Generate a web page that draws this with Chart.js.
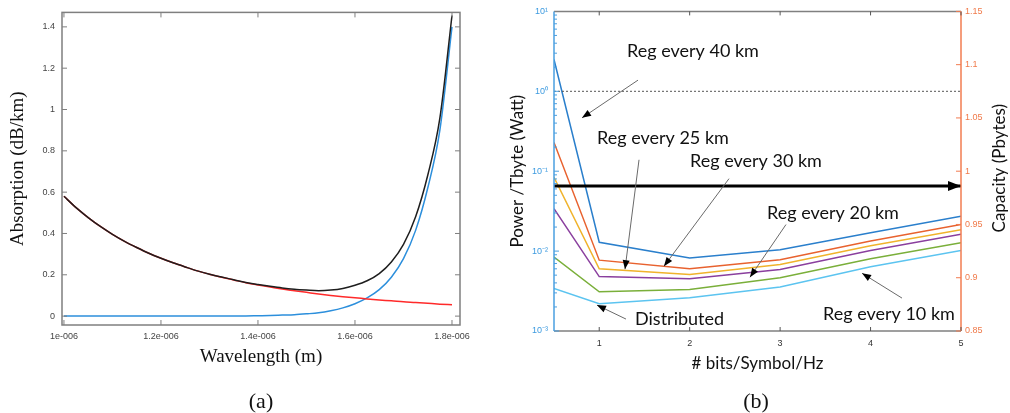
<!DOCTYPE html>
<html>
<head>
<meta charset="utf-8">
<script src="https://cdn.jsdelivr.net/npm/chart.js@4.4.0/dist/chart.umd.min.js"></script>
<style>
body { margin: 0; background: #fff; width: 1010px; height: 413px; position: relative; overflow: hidden; }
canvas { position: absolute; top: 0; }
#absorption { left: 0; }
#power { left: 500px; }
.sub { position: absolute; top: 388px; line-height: 24px; font: 22px "Liberation Serif"; color: #111; transform: translateX(-50%); }
</style>
</head>
<body>
<canvas id="absorption" width="500" height="413"></canvas>
<canvas id="power" width="510" height="413"></canvas>
<div class="sub" style="left:261px">(a)</div>
<div class="sub" style="left:756px">(b)</div>
<script>
// ---- (a) absorption vs wavelength ----
const wavelength = [1.000e-6, 1.025e-6, 1.050e-6, 1.075e-6, 1.100e-6, 1.125e-6, 1.150e-6, 1.175e-6, 1.200e-6,
  1.225e-6, 1.250e-6, 1.275e-6, 1.300e-6, 1.325e-6, 1.350e-6, 1.375e-6, 1.400e-6, 1.425e-6, 1.450e-6,
  1.475e-6, 1.500e-6, 1.525e-6, 1.550e-6, 1.575e-6, 1.600e-6, 1.625e-6, 1.650e-6, 1.675e-6, 1.700e-6,
  1.725e-6, 1.750e-6, 1.775e-6, 1.800e-6]
const scattering = [0.580, 0.525, 0.477, 0.434, 0.396, 0.362, 0.332, 0.304, 0.280, 0.258, 0.238, 0.219,
  0.203, 0.188, 0.175, 0.162, 0.151, 0.141, 0.131, 0.123, 0.115, 0.107, 0.100, 0.094, 0.089, 0.083,
  0.078, 0.074, 0.069, 0.066, 0.062, 0.058, 0.055]
const infrared = [0, 0, 0, 0, 0, 0, 0, 0, 0, 0, 0, 0, 0, 0.001, 0.001, 0.001, 0.002, 0.003, 0.005, 0.007,
  0.011, 0.016, 0.026, 0.040, 0.060, 0.088, 0.128, 0.188, 0.278, 0.415, 0.620, 0.900, 1.400]
const totalLoss = [0.580, 0.525, 0.477, 0.434, 0.396, 0.362, 0.332, 0.304, 0.280, 0.258, 0.238, 0.219,
  0.203, 0.189, 0.176, 0.163, 0.153, 0.144, 0.136, 0.130, 0.126, 0.123, 0.126, 0.134, 0.149, 0.171,
  0.206, 0.262, 0.347, 0.481, 0.682, 0.958, 1.455]
const wlTicks = [1e-6, 1.2e-6, 1.4e-6, 1.6e-6, 1.8e-6]
const wlTickLabels = ['1e-006', '1.2e-006', '1.4e-006', '1.6e-006', '1.8e-006']
const absTicks = [0, 0.2, 0.4, 0.6, 0.8, 1, 1.2, 1.4]
const absTickLabels = ['0', '0.2', '0.4', '0.6', '0.8', '1', '1.2', '1.4']

// ---- (b) power / capacity vs bits per symbol ----
const bitsPerSymbol = [0.5, 1, 2, 3, 4, 5]
const reg40 = [2.5, 0.0129, 0.0082, 0.0104, 0.0170, 0.0273]
const reg30 = [0.229, 0.0077, 0.0060, 0.0078, 0.0134, 0.0215]
const reg25 = [0.084, 0.0060, 0.0051, 0.0068, 0.0117, 0.0185]
const reg20 = [0.034, 0.0048, 0.0045, 0.0059, 0.0102, 0.0162]
const reg10 = [0.0084, 0.0031, 0.0033, 0.00465, 0.0080, 0.0127]
const distributed = [0.0034, 0.0022, 0.0026, 0.00356, 0.00636, 0.0102]
const limitX = [0.5, 5]
const limitPower = [1, 1]
const capacityX = [0.5, 5]
const capacity = [0.986, 0.986]
const bitsTicks = [1, 2, 3, 4, 5]
const bitsTickLabels = ['1', '2', '3', '4', '5']
const powerTicks = [0.001, 0.01, 0.1, 1, 10]
const powerTickLabels = ['10⁻³', '10⁻²', '10⁻¹', '10⁰', '10¹']
const capTicks = [0.85, 0.9, 0.95, 1, 1.05, 1.1, 1.15]
const capTickLabels = ['0.85', '0.9', '0.95', '1', '1.05', '1.1', '1.15']

// callouts, in data units (x, power)
const notes = [
  { text: 'Reg every 40 km', x: 1.307, y: 3.18, from: [1.429, 1.38], to: [0.810, 0.465] },
  { text: 'Reg every 25 km', x: 0.975, y: 0.261, from: [1.440, 0.139], to: [1.285, 0.00593] },
  { text: 'Reg every 30 km', x: 2.004, y: 0.135, from: [2.435, 0.0807], to: [1.716, 0.00646] },
  { text: 'Reg every 20 km', x: 2.855, y: 0.0295, from: [3.065, 0.0215], to: [2.667, 0.00471] },
  { text: 'Reg every 10 km', x: 3.474, y: 0.00163, from: [4.348, 0.00258], to: [3.906, 0.00528] },
  { text: 'Distributed', x: 1.396, y: 0.00141, from: [1.296, 0.00141], to: [0.975, 0.00211] },
]

Chart.defaults.font.family = 'Liberation Sans'

const pts = (xs, ys) => xs.map((x, i) => ({ x: x, y: ys[i] }))
const fixTicks = vals => s => { s.ticks = vals.map(v => ({ value: v })) }

function head(ctx, x0, y0, x1, y1, len, w) {
    const a = Math.atan2(y1 - y0, x1 - x0)
    ctx.save()
    ctx.translate(x1, y1)
    ctx.rotate(a)
    ctx.beginPath()
    ctx.moveTo(0, 0)
    ctx.lineTo(-len, -w / 2)
    ctx.lineTo(-len, w / 2)
    ctx.closePath()
    ctx.fill()
    ctx.restore()
}

const frameA = {
    id: 'frameA',
    afterDatasetsDraw(chart) {
        const { ctx, chartArea: a, scales: { x, y } } = chart
        ctx.save()
        ctx.strokeStyle = '#7f7f7f'
        ctx.lineWidth = 1.5
        ctx.strokeRect(a.left, a.top, a.right - a.left, a.bottom - a.top)
        ctx.lineWidth = 1
        ctx.beginPath()
        x.ticks.forEach(t => {
            const p = x.getPixelForValue(t.value)
            ctx.moveTo(p, a.bottom); ctx.lineTo(p, a.bottom - 5)
            ctx.moveTo(p, a.top); ctx.lineTo(p, a.top + 5)
        })
        y.ticks.forEach(t => {
            const p = y.getPixelForValue(t.value)
            ctx.moveTo(a.left, p); ctx.lineTo(a.left + 5, p)
            ctx.moveTo(a.right, p); ctx.lineTo(a.right - 5, p)
        })
        ctx.stroke()
        ctx.restore()
    },
}

const frameB = {
    id: 'frameB',
    afterDatasetsDraw(chart) {
        const { ctx, chartArea: a, scales: { x, y, y2 } } = chart
        ctx.save()
        ctx.lineWidth = 1.5
        ctx.strokeStyle = '#808080'
        ctx.beginPath()
        ctx.moveTo(a.left, a.top); ctx.lineTo(a.right, a.top)
        ctx.moveTo(a.left, a.bottom); ctx.lineTo(a.right, a.bottom)
        ctx.stroke()
        ctx.strokeStyle = '#4a9fe0'
        ctx.beginPath(); ctx.moveTo(a.left, a.top); ctx.lineTo(a.left, a.bottom); ctx.stroke()
        ctx.strokeStyle = '#f27c50'
        ctx.beginPath(); ctx.moveTo(a.right, a.top); ctx.lineTo(a.right, a.bottom); ctx.stroke()

        ctx.lineWidth = 1
        ctx.strokeStyle = '#555'
        ctx.beginPath()
        x.ticks.forEach(t => {
            const p = x.getPixelForValue(t.value)
            ctx.moveTo(p, a.bottom); ctx.lineTo(p, a.bottom - 4)
            ctx.moveTo(p, a.top); ctx.lineTo(p, a.top + 4)
        })
        ctx.stroke()
        // log ticks, minor ones shorter
        ctx.strokeStyle = '#4a9fe0'
        ctx.beginPath()
        for (let e = -3; e < 1; e++) {
            for (let k = 1; k < 10; k++) {
                const p = y.getPixelForValue(k * Math.pow(10, e))
                ctx.moveTo(a.left, p); ctx.lineTo(a.left + (k === 1 ? 5 : 3), p)
            }
        }
        ctx.stroke()
        ctx.strokeStyle = '#f27c50'
        ctx.beginPath()
        y2.ticks.forEach(t => {
            const p = y2.getPixelForValue(t.value)
            ctx.moveTo(a.right, p); ctx.lineTo(a.right - 5, p)
        })
        ctx.stroke()

        // arrow head on the capacity line (dataset 0)
        const meta = chart.getDatasetMeta(0).data
        const p0 = meta[0], p1 = meta[meta.length - 1]
        ctx.fillStyle = '#000'
        head(ctx, p0.x, p0.y, p1.x, p1.y, 13, 10)

        // callouts
        ctx.font = '18px Lato'
        ctx.textBaseline = 'middle'
        ctx.textAlign = 'left'
        notes.forEach(n => {
            ctx.fillStyle = '#111'
            ctx.fillText(n.text, x.getPixelForValue(n.x), y.getPixelForValue(n.y))
            const x0 = x.getPixelForValue(n.from[0]), y0 = y.getPixelForValue(n.from[1])
            const x1 = x.getPixelForValue(n.to[0]), y1 = y.getPixelForValue(n.to[1])
            ctx.strokeStyle = '#6a6a6a'
            ctx.lineWidth = 1
            ctx.beginPath(); ctx.moveTo(x0, y0); ctx.lineTo(x1, y1); ctx.stroke()
            ctx.fillStyle = '#000'
            head(ctx, x0, y0, x1, y1, 9, 7)
        })

        // right axis title reads bottom to top
        ctx.translate(500, (a.top + a.bottom) / 2 - 3)
        ctx.rotate(-Math.PI / 2)
        ctx.textAlign = 'center'
        ctx.font = '17px Lato'
        ctx.fillStyle = '#111'
        ctx.fillText('Capacity (Pbytes)', 0, 0)
        ctx.restore()
    },
}

// first dataset is drawn on top
new Chart(document.getElementById('absorption'), {
    type: 'line',
    data: {
        datasets: [
            { data: pts(wavelength, totalLoss), borderColor: '#1e1e1e' },
            { data: pts(wavelength, scattering), borderColor: '#ff2a2a' },
            { data: pts(wavelength, infrared), borderColor: '#2c8fdc' },
        ],
    },
    options: {
        responsive: false,
        animation: false,
        devicePixelRatio: 1,
        layout: { padding: { left: 0, top: 10, right: 40, bottom: 0 } },
        elements: {
            line: { borderWidth: 1.5, cubicInterpolationMode: 'monotone' },
            point: { radius: 0 },
        },
        plugins: { legend: { display: false }, tooltip: { enabled: false } },
        scales: {
            x: {
                type: 'linear',
                min: 0.996e-6,
                max: 1.8165e-6,
                afterBuildTicks: fixTicks(wlTicks),
                afterFit: s => { s.height = 88 },
                grid: { display: false, drawTicks: false },
                border: { display: false },
                ticks: { callback: (v, i) => wlTickLabels[i], padding: 6, color: '#444', font: { size: 9 }, maxRotation: 0, autoSkip: false },
                title: { display: true, text: 'Wavelength (m)', color: '#111', font: { family: 'Liberation Serif', size: 19 }, padding: { top: 0, bottom: 45 } },
            },
            y: {
                min: -0.043,
                max: 1.47,
                afterBuildTicks: fixTicks(absTicks),
                afterFit: s => { s.width = 62 },
                grid: { display: false, drawTicks: false },
                border: { display: false },
                ticks: { callback: (v, i) => absTickLabels[i], padding: 7, color: '#444', font: { size: 9 }, autoSkip: false },
                title: { display: true, text: 'Absorption (dB/km)', color: '#111', font: { family: 'Liberation Serif', size: 19 }, padding: { top: 7, bottom: 0 } },
            },
        },
    },
    plugins: [frameA],
})

new Chart(document.getElementById('power'), {
    type: 'line',
    data: {
        datasets: [
            { data: pts(capacityX, capacity), borderColor: '#000', borderWidth: 3, yAxisID: 'y2' },
            { data: pts(limitX, limitPower), borderColor: '#555', borderWidth: 1, borderDash: [2, 2] },
            { data: pts(bitsPerSymbol, reg40), borderColor: '#2a7fcc' },
            { data: pts(bitsPerSymbol, reg30), borderColor: '#e8622f' },
            { data: pts(bitsPerSymbol, reg25), borderColor: '#f0b32c' },
            { data: pts(bitsPerSymbol, reg20), borderColor: '#8a3f9e' },
            { data: pts(bitsPerSymbol, reg10), borderColor: '#7aaf3a' },
            { data: pts(bitsPerSymbol, distributed), borderColor: '#5cc4f0' },
        ],
    },
    options: {
        responsive: false,
        animation: false,
        devicePixelRatio: 1,
        layout: { padding: { left: 0, top: 10, right: 0, bottom: 0 } },
        elements: {
            line: { borderWidth: 1.5, tension: 0 },
            point: { radius: 0 },
        },
        plugins: { legend: { display: false }, tooltip: { enabled: false } },
        scales: {
            x: {
                type: 'linear',
                min: 0.5,
                max: 5,
                afterBuildTicks: fixTicks(bitsTicks),
                afterFit: s => { s.height = 82 },
                grid: { display: false, drawTicks: false },
                border: { display: false },
                ticks: { callback: (v, i) => bitsTickLabels[i], padding: 7, color: '#333', font: { size: 9 }, maxRotation: 0, autoSkip: false },
                title: { display: true, text: '# bits/Symbol/Hz', color: '#111', font: { family: 'Lato', size: 17 }, padding: { top: 0, bottom: 39 } },
            },
            y: {
                type: 'logarithmic',
                position: 'left',
                min: 0.001,
                max: 10,
                afterBuildTicks: fixTicks(powerTicks),
                afterFit: s => { s.width = 54 },
                grid: { display: false, drawTicks: false },
                border: { display: false },
                ticks: { callback: (v, i) => powerTickLabels[i], padding: 6, color: '#3d9be0', font: { size: 9 }, autoSkip: false },
                title: { display: true, text: 'Power /Tbyte (Watt)', color: '#111', font: { family: 'Lato', size: 17 }, padding: { top: 7, bottom: 0 } },
            },
            y2: {
                type: 'linear',
                position: 'right',
                min: 0.85,
                max: 1.15,
                afterBuildTicks: fixTicks(capTicks),
                afterFit: s => { s.width = 49 },
                grid: { display: false, drawTicks: false },
                border: { display: false },
                ticks: { callback: (v, i) => capTickLabels[i], padding: 4, color: '#f07a4a', font: { size: 9 }, autoSkip: false },
            },
        },
    },
    plugins: [frameB],
})
</script>
</body>
</html>
